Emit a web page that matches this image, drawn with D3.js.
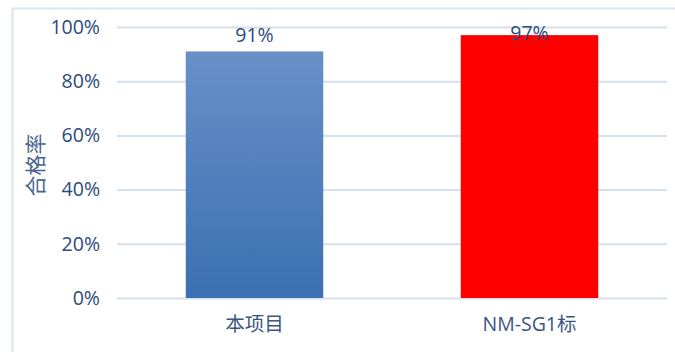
<!DOCTYPE html>
<html>
<head>
<meta charset="utf-8">
<script src="https://cdn.jsdelivr.net/npm/d3@7"></script>
<style>
  html, body { margin: 0; padding: 0; background: #fff; }
  svg { display: block; font-family: "Open Sans", "Noto Sans CJK SC", sans-serif; }
</style>
</head>
<body>
<svg id="chart" width="675" height="352"></svg>
<script>
const categories = ['本项目', 'NM-SG1标'];
const rates = [0.91, 0.97];
const barColors = ['url(#blueGrad)', '#ff0000'];
const yTicks = [0, 0.2, 0.4, 0.6, 0.8, 1.0];
const yLabel = '合格率';

const svg = d3.select('#chart');
const margin = {top: 27, right: 8, bottom: 54, left: 117};
const innerW = 667 - margin.left;
const innerH = 298 - margin.top;

const defs = svg.append('defs');
const grad = defs.append('linearGradient')
  .attr('id', 'blueGrad')
  .attr('x1', 0).attr('y1', 0).attr('x2', 0).attr('y2', 1);
grad.append('stop').attr('offset', '0%').attr('stop-color', '#6890c7');
grad.append('stop').attr('offset', '100%').attr('stop-color', '#3b70b2');

// outer frame
svg.append('path')
  .attr('d', 'M12.5,352 V8.5 H675')
  .attr('fill', 'none')
  .attr('stroke', '#dbe4f0')
  .attr('stroke-width', 2);

const g = svg.append('g').attr('transform', `translate(${margin.left},${margin.top})`);

const x = d3.scaleBand().domain(categories).range([0, innerW]).paddingInner(0.5).paddingOuter(0.25);
const y = d3.scaleLinear().domain([0, 1]).range([innerH, 0]);

const yAxis = g.append('g')
  .call(d3.axisLeft(y).tickValues(yTicks).tickFormat(d3.format('.0%')).tickSize(-innerW).tickPadding(17));
yAxis.select('.domain').remove();
yAxis.selectAll('.tick line').attr('stroke', '#d5e0ec').attr('stroke-width', 2);
yAxis.selectAll('.tick text')
  .attr('fill', '#2c4a7c')
  .attr('font-size', 19.5)
  .attr('font-family', '"Open Sans", sans-serif');

g.selectAll('rect.bar')
  .data(rates)
  .enter()
  .append('rect')
  .attr('class', 'bar')
  .attr('x', (d, i) => x(categories[i]))
  .attr('width', x.bandwidth())
  .attr('y', (d) => y(d))
  .attr('height', (d) => innerH - y(d))
  .attr('fill', (d, i) => barColors[i]);

// labels sit above the bar, but never above the plot's top edge
g.selectAll('text.val')
  .data(rates)
  .enter()
  .append('text')
  .attr('class', 'val')
  .attr('x', (d, i) => x(categories[i]) + x.bandwidth() / 2)
  .attr('y', (d) => Math.max(y(d) - 9, 13))
  .attr('text-anchor', 'middle')
  .attr('fill', '#2c4a7c')
  .attr('font-size', 19.5)
  .text((d) => d3.format('.0%')(d));

const xAxis = g.append('g')
  .attr('transform', `translate(0,${innerH})`)
  .call(d3.axisBottom(x).tickSize(0).tickPadding(19));
xAxis.select('.domain').remove();
xAxis.selectAll('.tick text')
  .attr('fill', '#3a5580')
  .attr('font-size', 19.5)
  .attr('font-family', '"Open Sans", "Noto Sans CJK SC", sans-serif');

svg.append('text')
  .attr('transform', 'translate(43,165) rotate(-90)')
  .attr('text-anchor', 'middle')
  .attr('fill', '#4a6590')
  .attr('font-size', 21)
  .attr('font-family', '"Noto Sans CJK SC", sans-serif')
  .text(yLabel);
</script>
</body>
</html>
